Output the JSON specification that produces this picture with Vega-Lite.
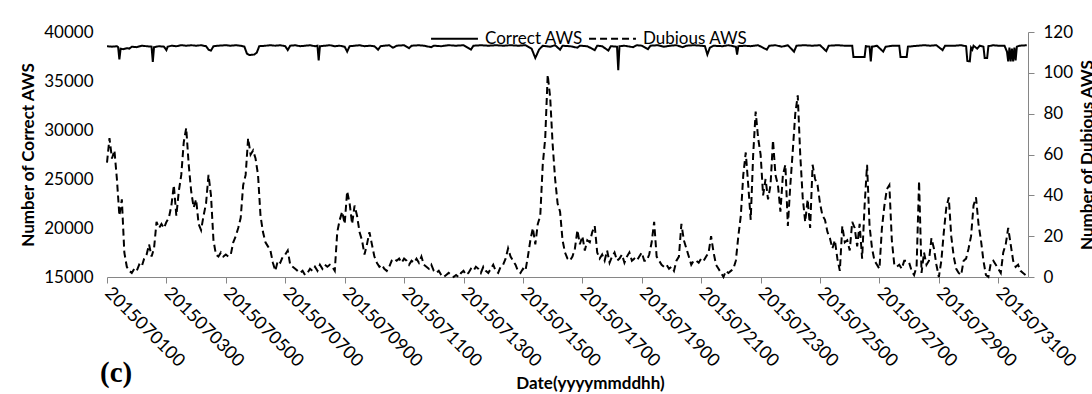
{
  "$schema": "https://vega.github.io/schema/vega-lite/v6.json",
  "width": 921,
  "height": 245,
  "autosize": {"type": "none"},
  "padding": {"left": 107, "top": 32, "right": 64, "bottom": 117},
  "background": "white",
  "config": {
    "font": "Lato",
    "view": {"stroke": null},
    "axis": {"grid": false, "labelColor": "#000", "titleColor": "#000", "domainColor": "#868686", "tickColor": "#868686", "labelFont": "Lato", "titleFont": "Lato", "labelFontSize": 17, "titleFontSize": 17}
  },
  "title": {"text": "(c)", "orient": "bottom", "anchor": "start", "frame": "group", "font": "Liberation Serif", "fontSize": 29, "fontWeight": "bold", "color": "#000", "dx": -7, "offset": -32},
  "datasets": {
    "correct": [
      {"h":0,"c":38550},{"h":4,"c":38500},{"h":8,"c":38550},{"h":9,"c":38450},{"h":10,"c":37200},{"h":11,"c":38300},{"h":13,"c":38250},{"h":16,"c":38350},{"h":18,"c":38300},{"h":20,"c":38500},{"h":24,"c":38450},{"h":28,"c":38600},{"h":32,"c":38550},{"h":36,"c":38500},{"h":37,"c":36950},{"h":38,"c":38450},{"h":42,"c":38550},{"h":46,"c":38500},{"h":48,"c":38150},{"h":49,"c":38500},{"h":52,"c":38600},{"h":56,"c":38550},{"h":60,"c":38650},{"h":64,"c":38600},{"h":68,"c":38650},{"h":72,"c":38600},{"h":76,"c":38650},{"h":80,"c":38550},{"h":82,"c":38200},{"h":84,"c":38100},{"h":86,"c":38550},{"h":90,"c":38600},{"h":96,"c":38650},{"h":100,"c":38600},{"h":104,"c":38650},{"h":108,"c":38600},{"h":111,"c":38500},{"h":113,"c":37800},{"h":115,"c":37650},{"h":119,"c":37700},{"h":121,"c":37900},{"h":123,"c":38550},{"h":128,"c":38600},{"h":132,"c":38650},{"h":136,"c":38600},{"h":140,"c":38650},{"h":144,"c":38550},{"h":146,"c":38150},{"h":148,"c":38600},{"h":152,"c":38650},{"h":156,"c":38550},{"h":160,"c":38600},{"h":164,"c":38650},{"h":168,"c":38550},{"h":170,"c":38600},{"h":171,"c":37100},{"h":172,"c":38550},{"h":176,"c":38600},{"h":180,"c":38650},{"h":184,"c":38550},{"h":188,"c":38600},{"h":192,"c":38500},{"h":194,"c":38000},{"h":196,"c":38550},{"h":200,"c":38600},{"h":204,"c":38650},{"h":208,"c":38550},{"h":212,"c":38600},{"h":216,"c":38550},{"h":219,"c":38200},{"h":221,"c":38550},{"h":224,"c":38600},{"h":228,"c":38650},{"h":231,"c":38400},{"h":234,"c":38600},{"h":240,"c":38650},{"h":244,"c":38350},{"h":246,"c":38600},{"h":252,"c":38650},{"h":256,"c":38600},{"h":262,"c":38450},{"h":264,"c":38600},{"h":270,"c":38550},{"h":276,"c":38650},{"h":282,"c":38600},{"h":288,"c":38650},{"h":294,"c":38200},{"h":296,"c":38600},{"h":302,"c":38650},{"h":308,"c":38600},{"h":314,"c":38650},{"h":320,"c":38600},{"h":326,"c":38650},{"h":332,"c":38600},{"h":338,"c":38650},{"h":343,"c":38300},{"h":346,"c":37350},{"h":349,"c":38200},{"h":352,"c":38600},{"h":358,"c":38500},{"h":362,"c":38650},{"h":366,"c":38200},{"h":368,"c":38600},{"h":374,"c":38550},{"h":380,"c":38400},{"h":382,"c":38600},{"h":388,"c":38550},{"h":394,"c":38150},{"h":396,"c":38600},{"h":400,"c":38550},{"h":405,"c":38100},{"h":407,"c":38550},{"h":412,"c":38500},{"h":413,"c":36100},{"h":414,"c":38550},{"h":418,"c":38600},{"h":425,"c":38450},{"h":428,"c":38650},{"h":432,"c":38600},{"h":437,"c":38250},{"h":439,"c":38600},{"h":445,"c":38650},{"h":450,"c":38500},{"h":455,"c":38600},{"h":460,"c":38650},{"h":465,"c":38450},{"h":468,"c":38600},{"h":474,"c":38650},{"h":480,"c":38600},{"h":483,"c":38550},{"h":485,"c":37700},{"h":487,"c":38400},{"h":490,"c":38600},{"h":497,"c":38550},{"h":502,"c":38650},{"h":508,"c":38500},{"h":509,"c":37700},{"h":510,"c":38550},{"h":515,"c":38600},{"h":520,"c":38550},{"h":526,"c":38650},{"h":533,"c":38200},{"h":535,"c":38600},{"h":540,"c":38650},{"h":545,"c":38500},{"h":550,"c":38650},{"h":555,"c":38000},{"h":557,"c":38600},{"h":563,"c":38650},{"h":570,"c":38600},{"h":576,"c":38650},{"h":581,"c":38050},{"h":583,"c":38600},{"h":590,"c":38650},{"h":596,"c":38600},{"h":602,"c":38600},{"h":603,"c":37450},{"h":612,"c":37450},{"h":613,"c":38550},{"h":616,"c":38500},{"h":617,"c":37000},{"h":618,"c":38500},{"h":622,"c":38600},{"h":627,"c":38000},{"h":629,"c":38500},{"h":635,"c":38600},{"h":640,"c":38600},{"h":641,"c":37450},{"h":646,"c":37450},{"h":647,"c":38500},{"h":655,"c":38600},{"h":660,"c":38650},{"h":665,"c":38600},{"h":670,"c":38650},{"h":675,"c":38150},{"h":677,"c":38600},{"h":685,"c":38600},{"h":690,"c":38650},{"h":694,"c":38550},{"h":695,"c":37050},{"h":697,"c":37000},{"h":698,"c":38400},{"h":699,"c":38200},{"h":700,"c":38600},{"h":703,"c":38300},{"h":705,"c":38600},{"h":708,"c":38500},{"h":709,"c":37350},{"h":711,"c":37350},{"h":712,"c":38550},{"h":716,"c":38650},{"h":720,"c":38600},{"h":725,"c":38600},{"h":727,"c":38000},{"h":728,"c":37000},{"h":729,"c":38400},{"h":730,"c":37000},{"h":731,"c":38300},{"h":732,"c":37000},{"h":733,"c":38400},{"h":734,"c":37100},{"h":735,"c":38500},{"h":737,"c":38600},{"h":743,"c":38650}
    ],
    "dubious": [
      {"h":0,"d":56},{"h":2,"d":68},{"h":4,"d":58},{"h":6,"d":62},{"h":8,"d":48},{"h":10,"d":30},{"h":12,"d":38},{"h":14,"d":12},{"h":16,"d":5},{"h":18,"d":3},{"h":20,"d":2},{"h":22,"d":4},{"h":24,"d":3},{"h":26,"d":6},{"h":28,"d":5},{"h":30,"d":9},{"h":32,"d":11},{"h":34,"d":16},{"h":36,"d":10},{"h":38,"d":14},{"h":40,"d":27},{"h":42,"d":24},{"h":44,"d":26},{"h":46,"d":24},{"h":48,"d":27},{"h":50,"d":29},{"h":52,"d":35},{"h":54,"d":45},{"h":56,"d":30},{"h":58,"d":42},{"h":60,"d":50},{"h":62,"d":66},{"h":64,"d":73},{"h":66,"d":55},{"h":68,"d":42},{"h":70,"d":34},{"h":72,"d":38},{"h":74,"d":26},{"h":76,"d":23},{"h":78,"d":30},{"h":80,"d":36},{"h":82,"d":50},{"h":84,"d":40},{"h":86,"d":18},{"h":88,"d":11},{"h":90,"d":10},{"h":92,"d":12},{"h":94,"d":10},{"h":96,"d":11},{"h":98,"d":10},{"h":100,"d":11},{"h":102,"d":17},{"h":104,"d":20},{"h":106,"d":24},
      {"h":108,"d":29},{"h":110,"d":45},{"h":112,"d":50},{"h":114,"d":68},{"h":116,"d":60},{"h":118,"d":62},{"h":120,"d":58},{"h":122,"d":50},{"h":124,"d":30},{"h":126,"d":22},{"h":128,"d":17},{"h":130,"d":15},{"h":132,"d":13},{"h":134,"d":7},{"h":136,"d":3},{"h":138,"d":8},{"h":140,"d":7},{"h":142,"d":10},{"h":144,"d":11},{"h":146,"d":13},{"h":148,"d":6},{"h":150,"d":5},{"h":152,"d":4},{"h":154,"d":3},{"h":156,"d":2},{"h":158,"d":3},{"h":160,"d":1},{"h":162,"d":2},{"h":164,"d":4},{"h":166,"d":3},{"h":168,"d":5},{"h":170,"d":3},{"h":172,"d":6},{"h":174,"d":4},{"h":176,"d":6},{"h":178,"d":5},{"h":180,"d":6},{"h":182,"d":5},{"h":184,"d":3},{"h":186,"d":22},{"h":188,"d":28},{"h":190,"d":32},{"h":192,"d":26},{"h":194,"d":42},{"h":196,"d":36},{"h":198,"d":26},{"h":200,"d":35},{"h":202,"d":30},{"h":204,"d":22},{"h":206,"d":18},{"h":208,"d":11},{"h":210,"d":16},{"h":212,"d":22},
      {"h":214,"d":16},{"h":216,"d":10},{"h":218,"d":7},{"h":220,"d":5},{"h":222,"d":6},{"h":224,"d":4},{"h":226,"d":3},{"h":228,"d":5},{"h":230,"d":8},{"h":232,"d":9},{"h":234,"d":8},{"h":236,"d":9},{"h":238,"d":7},{"h":240,"d":9},{"h":242,"d":8},{"h":244,"d":6},{"h":246,"d":8},{"h":248,"d":7},{"h":250,"d":9},{"h":252,"d":7},{"h":254,"d":10},{"h":256,"d":6},{"h":258,"d":5},{"h":260,"d":4},{"h":262,"d":6},{"h":264,"d":3},{"h":266,"d":2},{"h":268,"d":3},{"h":270,"d":1},{"h":272,"d":0},{"h":274,"d":1},{"h":276,"d":2},{"h":278,"d":1},{"h":280,"d":0},{"h":282,"d":1},{"h":284,"d":0},{"h":286,"d":2},{"h":288,"d":3},{"h":290,"d":1},{"h":292,"d":2},{"h":294,"d":4},{"h":296,"d":3},{"h":298,"d":5},{"h":300,"d":4},{"h":302,"d":2},{"h":304,"d":5},{"h":306,"d":3},{"h":308,"d":2},{"h":310,"d":4},{"h":312,"d":6},{"h":314,"d":3},{"h":316,"d":2},{"h":318,"d":5},
      {"h":320,"d":6},{"h":322,"d":9},{"h":324,"d":14},{"h":326,"d":10},{"h":328,"d":8},{"h":330,"d":6},{"h":332,"d":3},{"h":334,"d":2},{"h":336,"d":4},{"h":338,"d":3},{"h":340,"d":10},{"h":342,"d":18},{"h":344,"d":24},{"h":346,"d":16},{"h":348,"d":26},{"h":350,"d":30},{"h":352,"d":55},{"h":354,"d":68},{"h":356,"d":99},{"h":358,"d":88},{"h":360,"d":65},{"h":362,"d":48},{"h":364,"d":36},{"h":366,"d":32},{"h":368,"d":18},{"h":370,"d":12},{"h":372,"d":9},{"h":374,"d":8},{"h":376,"d":10},{"h":378,"d":14},{"h":380,"d":23},{"h":382,"d":16},{"h":384,"d":20},{"h":386,"d":13},{"h":388,"d":18},{"h":390,"d":17},{"h":392,"d":22},{"h":394,"d":25},{"h":396,"d":12},{"h":398,"d":9},
      {"h":400,"d":11},{"h":402,"d":8},{"h":404,"d":13},{"h":406,"d":7},{"h":408,"d":10},{"h":410,"d":12},{"h":412,"d":8},{"h":414,"d":9},{"h":416,"d":11},{"h":418,"d":7},{"h":420,"d":10},{"h":422,"d":12},{"h":424,"d":8},{"h":426,"d":9},{"h":428,"d":8},{"h":430,"d":10},{"h":432,"d":12},{"h":434,"d":8},{"h":436,"d":8},{"h":438,"d":11},{"h":440,"d":17},{"h":442,"d":27},{"h":444,"d":10},{"h":446,"d":8},{"h":448,"d":6},{"h":450,"d":5},{"h":452,"d":6},{"h":454,"d":4},{"h":456,"d":5},{"h":458,"d":3},{"h":460,"d":8},{"h":462,"d":10},{"h":464,"d":26},{"h":466,"d":18},{"h":468,"d":14},{"h":470,"d":10},{"h":472,"d":6},{"h":474,"d":8},{"h":476,"d":8},{"h":478,"d":7},{"h":480,"d":9},{"h":482,"d":8},{"h":484,"d":10},{"h":486,"d":12},{"h":488,"d":20},{"h":490,"d":12},{"h":492,"d":6},{"h":494,"d":4},{"h":496,"d":2},{"h":498,"d":0},{"h":500,"d":3},{"h":502,"d":2},{"h":504,"d":3},{"h":506,"d":4},{"h":508,"d":8},
      {"h":510,"d":20},{"h":512,"d":30},{"h":514,"d":50},{"h":516,"d":61},{"h":518,"d":45},{"h":520,"d":28},{"h":522,"d":60},{"h":524,"d":81},{"h":526,"d":68},{"h":528,"d":60},{"h":530,"d":40},{"h":532,"d":48},{"h":534,"d":38},{"h":536,"d":45},{"h":538,"d":67},{"h":540,"d":50},{"h":542,"d":45},{"h":544,"d":32},{"h":546,"d":50},{"h":548,"d":55},{"h":550,"d":25},{"h":552,"d":45},{"h":554,"d":62},{"h":556,"d":80},{"h":558,"d":89},{"h":560,"d":60},{"h":562,"d":39},{"h":564,"d":27},{"h":566,"d":38},{"h":568,"d":24},{"h":570,"d":55},{"h":572,"d":48},{"h":574,"d":45},{"h":576,"d":36},{"h":578,"d":30},{"h":580,"d":28},{"h":582,"d":22},{"h":584,"d":19},{"h":586,"d":14},{"h":588,"d":18},{"h":590,"d":9},{"h":592,"d":3},{"h":594,"d":25},{"h":596,"d":17},{"h":598,"d":18},{"h":600,"d":13},{"h":602,"d":27},{"h":604,"d":24},{"h":606,"d":15},{"h":608,"d":26},{"h":610,"d":9},{"h":612,"d":35},{"h":614,"d":55},{"h":616,"d":25},{"h":618,"d":14},{"h":620,"d":8},{"h":622,"d":6},{"h":624,"d":4},{"h":626,"d":24},{"h":628,"d":35},{"h":630,"d":43},{"h":632,"d":45},{"h":634,"d":18},{"h":636,"d":6},{"h":638,"d":5},
      {"h":640,"d":6},{"h":642,"d":4},{"h":644,"d":8},{"h":646,"d":8},{"h":648,"d":7},{"h":650,"d":3},{"h":652,"d":1},{"h":654,"d":5},{"h":656,"d":47},{"h":658,"d":2},{"h":660,"d":12},{"h":662,"d":6},{"h":664,"d":8},{"h":666,"d":19},{"h":668,"d":14},{"h":670,"d":6},{"h":672,"d":0},{"h":674,"d":8},{"h":676,"d":22},{"h":678,"d":34},{"h":680,"d":39},{"h":682,"d":20},{"h":684,"d":10},{"h":686,"d":4},{"h":688,"d":2},{"h":690,"d":1},{"h":692,"d":8},{"h":694,"d":9},{"h":696,"d":14},{"h":698,"d":20},{"h":700,"d":35},{"h":702,"d":39},{"h":704,"d":26},{"h":706,"d":18},{"h":708,"d":8},{"h":710,"d":1},{"h":712,"d":0},{"h":714,"d":7},{"h":716,"d":8},{"h":718,"d":6},{"h":720,"d":4},{"h":722,"d":2},{"h":724,"d":12},{"h":726,"d":16},{"h":728,"d":24},{"h":730,"d":16},{"h":732,"d":8},{"h":734,"d":5},{"h":736,"d":6},{"h":738,"d":3},{"h":740,"d":2},{"h":742,"d":1}
    ]
  },
  "encoding": {
    "x": {
      "field": "h",
      "type": "quantitative",
      "scale": {"domain": [0, 744], "nice": false, "zero": false},
      "axis": {
        "values": [0, 48, 96, 144, 192, 240, 288, 336, 384, 432, 480, 528, 576, 624, 672, 720],
        "labelExpr": "'201507' + (datum.value / 24 + 1 < 10 ? '0' : '') + (datum.value / 24 + 1) + '00'",
        "labelAngle": 45,
        "labelAlign": "left",
        "labelBaseline": "middle",
        "labelPadding": 7,
        "labelFontSize": 18,
        "tickSize": 6,
        "labelOverlap": false,
        "labelBound": false,
        "title": "Date(yyyymmddhh)",
        "titleFontWeight": "bold",
        "titleX": 483,
        "titleY": 106,
        "titleAnchor": "middle",
        "titleBaseline": "middle"
      }
    }
  },
  "layer": [
    {
      "data": {"name": "correct"},
      "mark": {"type": "line", "stroke": "#000", "strokeWidth": 2},
      "encoding": {
        "y": {
          "field": "c",
          "type": "quantitative",
          "scale": {"domain": [15000, 40000], "nice": false, "zero": false},
          "axis": {
            "orient": "left",
            "title": "Number of Correct AWS",
            "titleFontWeight": "bold",
            "values": [15000, 20000, 25000, 30000, 35000, 40000],
            "format": "d",
            "domain": false,
            "ticks": false,
            "labelPadding": 14,
            "titleAngle": -90,
            "titleX": -87,
            "titleBaseline": "top"
          }
        },
        "strokeDash": {
          "datum": "Correct AWS",
          "type": "nominal",
          "scale": {"domain": ["Correct AWS", "Dubious AWS"], "range": [[1, 0], [7, 4]]},
          "legend": {
            "orient": "none",
            "legendX": 323,
            "legendY": -18,
            "direction": "horizontal",
            "title": null,
            "symbolType": "stroke",
            "symbolStrokeColor": "#000",
            "symbolStrokeWidth": 2,
            "symbolSize": 2200,
            "labelFont": "Lato",
            "labelFontSize": 17,
            "labelColor": "#000",
            "labelOffset": 6,
            "columnPadding": 2
          }
        }
      }
    },
    {
      "data": {"name": "dubious"},
      "mark": {"type": "line", "stroke": "#000", "strokeWidth": 2},
      "encoding": {
        "y": {
          "field": "d",
          "type": "quantitative",
          "scale": {"domain": [0, 120], "nice": false},
          "axis": {
            "orient": "right",
            "title": "Number of Dubious AWS",
            "titleFontWeight": "bold",
            "values": [0, 20, 40, 60, 80, 100, 120],
            "tickSize": 6,
            "labelPadding": 9,
            "titleAngle": -90,
            "titleX": 51,
            "titleBaseline": "top"
          }
        },
        "strokeDash": {"datum": "Dubious AWS", "type": "nominal"}
      }
    }
  ],
  "resolve": {"scale": {"y": "independent"}, "axis": {"y": "independent"}}
}
